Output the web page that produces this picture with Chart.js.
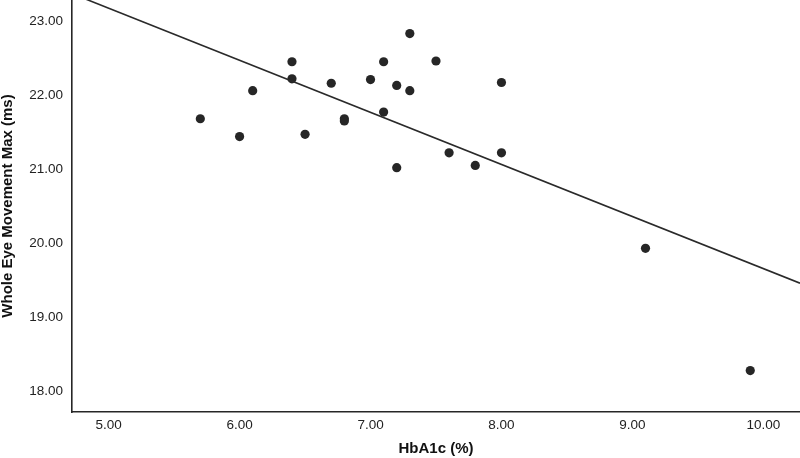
<!DOCTYPE html>
<html>
<head>
<meta charset="utf-8">
<script src="https://cdn.jsdelivr.net/npm/chart.js@4/dist/chart.umd.min.js"></script>
<style>
  html, body { margin: 0; padding: 0; background: #ffffff; }
  #wrap { width: 800px; height: 458px; position: relative; }
</style>
</head>
<body>
<div id="wrap"><canvas id="c"></canvas></div>
<script>
// HbA1c (%) for each participant
const hba1c = [5.70, 6.00, 6.10, 6.40, 6.40, 6.50, 6.70, 6.80, 6.80, 7.00, 7.10, 7.10,
               7.20, 7.20, 7.30, 7.30, 7.50, 7.60, 7.80, 8.00, 8.00, 9.10, 9.90];
// Whole Eye Movement Max (ms)
const eyeMax = [21.68, 21.44, 22.06, 22.45, 22.22, 21.47, 22.16, 21.68, 21.65, 22.21, 22.45, 21.77,
                22.13, 21.02, 22.83, 22.06, 22.46, 21.22, 21.05, 22.17, 21.22, 19.93, 18.28];
// Fit line end points
const fitX = [4.72, 10.28];
const fitY = [23.37, 19.46];
// Tick labels
const xTicks = [5, 6, 7, 8, 9, 10];
const yTicks = [18, 19, 20, 21, 22, 23];

const pts = hba1c.map((x, i) => ({ x: x, y: eyeMax[i] }));
const fit = fitX.map((x, i) => ({ x: x, y: fitY[i] }));

const FONT = "'Liberation Sans', Arial, sans-serif";

new Chart(document.getElementById('c'), {
  type: 'scatter',
  data: {
    datasets: [
      {
        type: 'line',
        data: fit,
        borderColor: '#2a2a2a',
        borderWidth: 1.6,
        pointRadius: 0,
        fill: false,
        tension: 0
      },
      {
        data: pts,
        backgroundColor: '#262626',
        borderWidth: 0,
        pointRadius: 4.6,
        pointHoverRadius: 4.6
      }
    ]
  },
  options: {
    responsive: true,
    maintainAspectRatio: false,
    animation: false,
    layout: { padding: 0, autoPadding: false },
    plugins: { legend: { display: false }, tooltip: { enabled: false } },
    scales: {
      x: {
        type: 'linear',
        min: 4.72,
        max: 10.28,
        afterBuildTicks: s => { s.ticks = xTicks.map(v => ({ value: v })); },
        afterFit: s => { s.height = 46; s.paddingLeft = 0; s.paddingRight = 0; },
        grid: { display: true, drawOnChartArea: false, drawTicks: false },
        border: { display: true, color: '#262626', width: 1.6 },
        ticks: {
          padding: 5,
          color: '#222222',
          font: { family: FONT, size: 13.5 },
          callback: v => Number(v).toFixed(2),
          maxRotation: 0
        },
        title: {
          display: true,
          text: 'HbA1c (%)',
          color: '#111111',
          font: { family: FONT, size: 15, weight: 'bold', lineHeight: 1 },
          padding: { top: 0, bottom: 2 }
        }
      },
      y: {
        type: 'linear',
        min: 17.72,
        max: 23.284,
        afterBuildTicks: s => { s.ticks = yTicks.map(v => ({ value: v })); },
        afterFit: s => { s.width = 72; s.paddingTop = 0; s.paddingBottom = 0; },
        grid: { display: true, drawOnChartArea: false, drawTicks: false },
        border: { display: true, color: '#262626', width: 1.6 },
        ticks: {
          padding: 9,
          color: '#222222',
          font: { family: FONT, size: 13.5 },
          callback: v => Number(v).toFixed(2)
        },
        title: {
          display: true,
          text: 'Whole Eye Movement Max (ms)',
          color: '#111111',
          font: { family: FONT, size: 15, weight: 'bold', lineHeight: 1 },
          padding: { top: 0, bottom: 0 }
        }
      }
    }
  }
});
</script>
</body>
</html>
